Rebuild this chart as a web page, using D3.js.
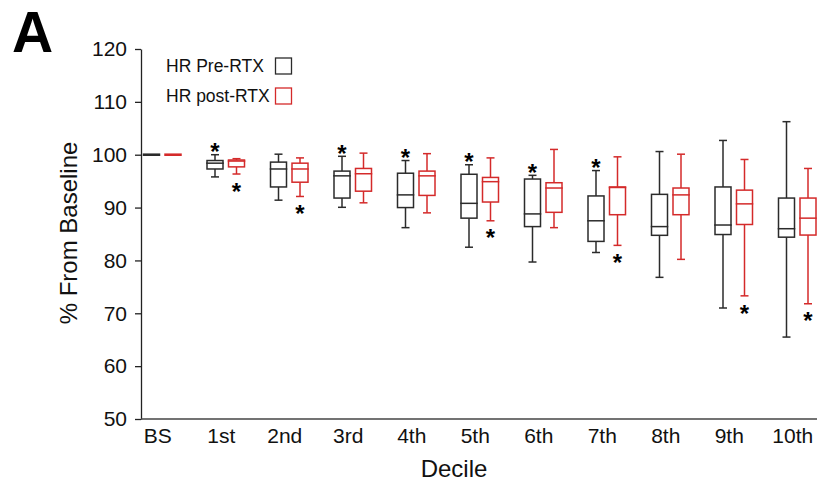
<!DOCTYPE html>
<html>
<head>
<meta charset="utf-8">
<script src="https://cdn.jsdelivr.net/npm/d3@7"></script>
<style>
  html, body { margin: 0; padding: 0; background: #fff; }
  svg { display: block; font-family: "Liberation Sans", Arial, sans-serif; }
</style>
</head>
<body>
<svg id="chart" width="820" height="487"></svg>
<script>
// Deciles of the recording, baseline first
const categories = ["BS", "1st", "2nd", "3rd", "4th", "5th", "6th", "7th", "8th", "9th", "10th"];
const yTicks = [50, 60, 70, 80, 90, 100, 110, 120];

// HR Pre-RTX box statistics (% from baseline)
const preLow  = [100, 95.8, 91.4, 90.05, 86.2, 82.5, 79.7, 81.5, 76.8, 71.0, 65.5];
const preQ1   = [100, 97.3, 93.9, 91.8, 90.0, 88.0, 86.4, 83.6, 84.75, 84.9, 84.4];
const preMed  = [100, 98.4, 97.3, 96.0, 92.4, 90.8, 88.8, 87.5, 86.4, 86.7, 86.0];
const preQ3   = [100, 98.9, 98.6, 96.9, 96.5, 96.3, 95.4, 92.2, 92.5, 93.9, 91.8];
const preHigh = [100, 100.0, 100.1, 99.7, 98.9, 98.1, 96.1, 97.0, 100.6, 102.7, 106.25];

// HR post-RTX box statistics (% from baseline)
const postLow  = [100, 96.35, 92.1, 90.9, 89.0, 87.5, 86.2, 82.85, 80.2, 73.3, 71.8];
const postQ1   = [100, 97.7, 94.8, 93.1, 92.3, 91.05, 89.1, 88.65, 88.65, 86.8, 84.8];
const postMed  = [100, 98.8, 97.3, 96.4, 96.0, 94.9, 93.7, 93.8, 92.4, 90.7, 88.0];
const postQ3   = [100, 99.0, 98.4, 97.4, 96.9, 95.7, 94.7, 93.9, 93.7, 93.3, 91.8];
const postHigh = [100, 99.25, 99.4, 100.3, 100.2, 99.4, 101.0, 99.6, 100.1, 99.1, 97.4];

// Significance markers
const preStar  = [false, true, false, true, true, true, true, true, false, false, false];
const postStar = [false, true, true, false, false, true, false, true, false, true, true];

const seriesNames = ["HR Pre-RTX", "HR post-RTX"];
const seriesColors = ["#2b2b2b", "#d42a2a"];

const svg = d3.select("#chart");
const plotLeft = 141, plotRight = 817, plotTop = 49, plotBottom = 419;
const font = "\"Liberation Sans\", Arial, sans-serif";

const y = d3.scaleLinear().domain([50, 120]).range([plotBottom, plotTop]);
const x = d3.scalePoint().domain(categories).range([162.25, 797.25]);
const inner = d3.scaleBand().domain([0, 1]).range([-21.5, 21.5]).paddingInner(0);
const boxW = 16, capW = 8;

// Y axis
const yAxis = svg.append("g")
  .attr("transform", `translate(${plotLeft},0)`)
  .call(d3.axisLeft(y).tickValues(yTicks).tickSize(6).tickSizeOuter(0).tickPadding(8));
yAxis.select(".domain").attr("stroke", "#222").attr("stroke-width", 1.3);
yAxis.selectAll(".tick line").attr("stroke", "#222").attr("stroke-width", 1.3);
yAxis.selectAll(".tick text").attr("font-size", 21).attr("font-family", font).attr("fill", "#111");

// X axis
const xAxis = svg.append("g")
  .attr("transform", `translate(0,${plotBottom})`)
  .call(d3.axisBottom(x).tickSize(0).tickPadding(8));
xAxis.select(".domain").remove();
xAxis.selectAll(".tick text").attr("font-size", 21).attr("font-family", font)
  .attr("fill", "#111").attr("dx", -5).attr("dy", "0.78em");
svg.append("line")
  .attr("x1", plotLeft).attr("x2", plotRight).attr("y1", plotBottom).attr("y2", plotBottom)
  .attr("stroke", "#444").attr("stroke-width", 1.3);

// Axis titles
svg.append("text")
  .attr("x", 454).attr("y", 477)
  .attr("text-anchor", "middle").attr("font-size", 24).attr("font-family", font).attr("fill", "#111")
  .text("Decile");
svg.append("text")
  .attr("transform", `translate(77,233) rotate(-90)`)
  .attr("text-anchor", "middle").attr("font-size", 24).attr("font-family", font).attr("fill", "#111")
  .text("% From Baseline");

// Panel letter
svg.append("text")
  .attr("x", 12).attr("y", 52)
  .attr("font-size", 57).attr("font-weight", "bold").attr("font-family", font).attr("fill", "#000")
  .text("A");

// Box plots
const series = [
  { low: preLow, q1: preQ1, med: preMed, q3: preQ3, high: preHigh },
  { low: postLow, q1: postQ1, med: postMed, q3: postQ3, high: postHigh }
];

series.forEach((s, si) => {
  const color = seriesColors[si];
  const off = inner(si) + inner.bandwidth() / 2;
  const rows = categories.map((c, i) => ({
    c, low: s.low[i], q1: s.q1[i], med: s.med[i], q3: s.q3[i], high: s.high[i]
  }));
  const g = svg.append("g").attr("fill", "none").attr("stroke", color).attr("stroke-width", 1.5);
  const grp = g.selectAll("g").data(rows).join("g")
    .attr("transform", d => `translate(${x(d.c) + off},0)`);

  const hasWhisker = d => d.high !== d.q3 || d.low !== d.q1;
  // upper whisker + cap
  grp.filter(hasWhisker).append("line")
    .attr("x1", 0).attr("x2", 0).attr("y1", d => y(d.q3)).attr("y2", d => y(d.high));
  grp.filter(hasWhisker).append("line")
    .attr("x1", -capW / 2).attr("x2", capW / 2).attr("y1", d => y(d.high)).attr("y2", d => y(d.high));
  // lower whisker + cap
  grp.filter(hasWhisker).append("line")
    .attr("x1", 0).attr("x2", 0).attr("y1", d => y(d.q1)).attr("y2", d => y(d.low));
  grp.filter(hasWhisker).append("line")
    .attr("x1", -capW / 2).attr("x2", capW / 2).attr("y1", d => y(d.low)).attr("y2", d => y(d.low));
  // box
  grp.append("rect")
    .attr("x", -boxW / 2).attr("width", boxW)
    .attr("y", d => y(d.q3)).attr("height", d => y(d.q1) - y(d.q3))
    .attr("fill", "#fff");
  // median (a collapsed box reads as one heavier bar)
  grp.append("line")
    .attr("x1", -boxW / 2 - 0.75).attr("x2", boxW / 2 + 0.75)
    .attr("y1", d => y(d.med)).attr("y2", d => y(d.med))
    .attr("stroke-width", d => d.q1 === d.q3 ? 2.6 : 1.5);
});

// Asterisks: above pre-RTX whiskers, below post-RTX whiskers
const starSize = 24;
const preOff = inner(0) + inner.bandwidth() / 2;
const postOff = inner(1) + inner.bandwidth() / 2;
svg.append("g").selectAll("text")
  .data(categories.map((c, i) => ({ c, i })).filter(d => preStar[d.i]))
  .join("text")
  .attr("x", d => x(d.c) + preOff)
  .attr("y", d => y(preHigh[d.i]) - 8 + starSize * 0.57)
  .attr("text-anchor", "middle").attr("font-size", starSize).attr("font-weight", "bold")
  .attr("font-family", font).attr("fill", "#000")
  .text("*");
svg.append("g").selectAll("text")
  .data(categories.map((c, i) => ({ c, i })).filter(d => postStar[d.i]))
  .join("text")
  .attr("x", d => x(d.c) + postOff)
  .attr("y", d => y(postLow[d.i]) + 12 + starSize * 0.57)
  .attr("text-anchor", "middle").attr("font-size", starSize).attr("font-weight", "bold")
  .attr("font-family", font).attr("fill", "#000")
  .text("*");

// Legend
const legend = svg.append("g");
seriesNames.forEach((name, i) => {
  const ly = 66 + i * 30;
  legend.append("text")
    .attr("x", 166).attr("y", ly + 6)
    .attr("font-size", 17.5).attr("font-family", font).attr("fill", "#111")
    .text(name);
  legend.append("rect")
    .attr("x", 275.5).attr("y", ly - 8).attr("width", 16).attr("height", 16)
    .attr("fill", "#fff").attr("stroke", seriesColors[i]).attr("stroke-width", 1.3);
});
</script>
</body>
</html>
